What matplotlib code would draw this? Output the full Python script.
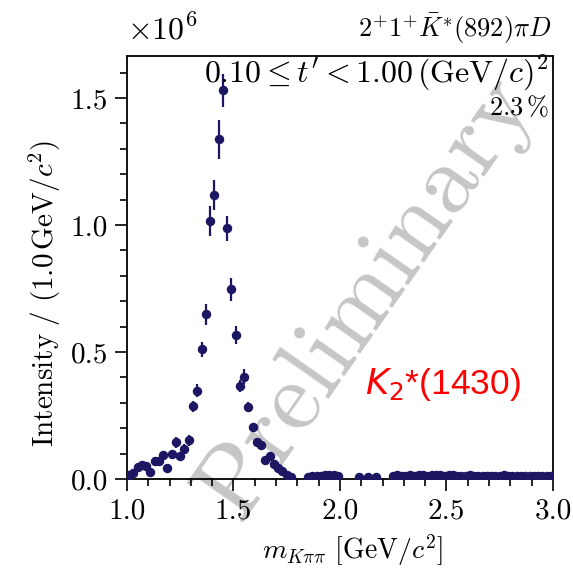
import numpy as np
import matplotlib
matplotlib.use("Agg")
import matplotlib.pyplot as plt

plt.rcParams["font.family"] = "serif"
plt.rcParams["font.serif"] = ["cmr10"]
plt.rcParams["mathtext.fontset"] = "cm"
plt.rcParams["axes.formatter.use_mathtext"] = True

# K pi pi mass bins (GeV/c^2) and intensity (units of 1e6)
mass = [1.01, 1.03, 1.05, 1.07, 1.09, 1.11, 1.13, 1.15, 1.17, 1.19,
        1.21, 1.23, 1.25, 1.27, 1.29, 1.31, 1.33, 1.35, 1.37, 1.39,
        1.41, 1.43, 1.45, 1.47, 1.49, 1.51, 1.53, 1.55, 1.57, 1.59,
        1.61, 1.63, 1.65, 1.67, 1.69, 1.71, 1.73, 1.75, 1.77,
        1.85, 1.87, 1.89, 1.91, 1.93, 1.95, 1.97, 1.99,
        2.09, 2.13, 2.17,
        2.25, 2.27, 2.29, 2.31, 2.33, 2.35, 2.37, 2.39, 2.41, 2.43,
        2.45, 2.47, 2.49, 2.51, 2.53, 2.55, 2.57, 2.59, 2.61, 2.63,
        2.65, 2.67, 2.69, 2.71, 2.73, 2.75, 2.77, 2.79, 2.81, 2.83,
        2.85, 2.87, 2.89, 2.91, 2.93, 2.95, 2.97, 2.99]
intensity = [0.015, 0.025, 0.048, 0.055, 0.052, 0.029, 0.072, 0.070, 0.094, 0.042,
             0.098, 0.145, 0.090, 0.120, 0.152, 0.287, 0.348, 0.510, 0.648, 1.016,
             1.118, 1.337, 1.530, 0.987, 0.747, 0.567, 0.366, 0.403, 0.282, 0.206,
             0.147, 0.134, 0.075, 0.090, 0.058, 0.044, 0.030, 0.017, 0.008,
             0.008, 0.010, 0.012, 0.013, 0.015, 0.016, 0.014, 0.013,
             0.008, 0.009, 0.008,
             0.012, 0.014, 0.011, 0.013, 0.015, 0.012, 0.014, 0.016, 0.013, 0.015,
             0.017, 0.014, 0.012, 0.015, 0.016, 0.013, 0.010, 0.012, 0.016, 0.013,
             0.012, 0.011, 0.012, 0.013, 0.011, 0.012, 0.015, 0.012, 0.011, 0.010,
             0.011, 0.013, 0.011, 0.010, 0.011, 0.012, 0.011, 0.013]
errors = [0.005, 0.006, 0.008, 0.008, 0.008, 0.007, 0.010, 0.010, 0.012, 0.008,
          0.014, 0.022, 0.015, 0.018, 0.020, 0.022, 0.025, 0.030, 0.040, 0.060,
          0.058, 0.075, 0.066, 0.050, 0.045, 0.035, 0.025, 0.030, 0.020, 0.015,
          0.012, 0.012, 0.008, 0.008, 0.006, 0.005, 0.004, 0.003, 0.002,
          0.002, 0.002, 0.002, 0.002, 0.002, 0.002, 0.002, 0.002,
          0.002, 0.002, 0.002,
          0.002, 0.002, 0.002, 0.002, 0.002, 0.002, 0.002, 0.002, 0.002, 0.002,
          0.002, 0.002, 0.002, 0.002, 0.002, 0.002, 0.002, 0.002, 0.002, 0.002,
          0.002, 0.002, 0.002, 0.002, 0.002, 0.002, 0.002, 0.002, 0.002, 0.002,
          0.002, 0.002, 0.002, 0.002, 0.002, 0.002, 0.002, 0.002]

navy = "#1d1763"

fig = plt.figure(figsize=(5.73, 5.73), dpi=100)
ax = fig.add_axes([0.2216, 0.164, 0.7434, 0.738])

# watermark behind the data
ax.text(0.565, 0.43, "Preliminary", transform=ax.transAxes, rotation=55,
        fontsize=72, color="#c6c6c6", ha="center", va="center", zorder=0)

ax.errorbar(mass, intensity, yerr=errors, fmt="o", color=navy, ms=5.8,
            elinewidth=1.6, capsize=0, zorder=3)

ax.set_xlim(1.0, 3.0)
ax.set_ylim(0, 1.665)
ax.set_xticks([1.0, 1.5, 2.0, 2.5, 3.0])
ax.set_xticks(np.arange(1.0, 3.01, 0.1), minor=True)
ax.set_yticks([0.0, 0.5, 1.0, 1.5])
ax.set_yticks(np.arange(0.0, 1.61, 0.1), minor=True)
ax.set_xticklabels(["1.0", "1.5", "2.0", "2.5", "3.0"])
ax.set_yticklabels(["0.0", "0.5", "1.0", "1.5"])
ax.tick_params(which="both", direction="out", labelsize=21, width=1.2)
ax.tick_params(which="major", length=8.5, pad=5)
ax.tick_params(which="minor", length=5)
for s in ax.spines.values():
    s.set_linewidth(1.3)

ax.set_xlabel(r"$m_{K\pi\pi}\ [\mathrm{GeV}/c^2]$", fontsize=20)
ax.set_ylabel(r"$\mathrm{Intensity}\ /\ (1.0\,\mathrm{GeV}/c^2)$", fontsize=21)
ax.xaxis.set_label_coords(0.53, -0.125)
ax.yaxis.set_label_coords(-0.15, 0.44)

fig.text(0.222, 0.932, r"$\times 10^6$", fontsize=23)
fig.text(0.963, 0.935, r"$2^{+}1^{+}\bar{K}^{*}(892)\pi D$", fontsize=19, ha="right")
ax.text(0.99, 1.005, r"$0.10 \leq t' < 1.00\,(\mathrm{GeV}/c)^2$", transform=ax.transAxes,
        fontsize=23, ha="right", va="top")
ax.text(0.99, 0.91, r"$2.3\,\%$", transform=ax.transAxes,
        fontsize=19, ha="right", va="top")

ax.text(0.558, 0.2, r"$K_2$*(1430)", transform=ax.transAxes, fontsize=25.5, color="red",
        family="Liberation Sans", math_fontfamily="dejavusans")

fig.savefig("out.png", dpi=100)
